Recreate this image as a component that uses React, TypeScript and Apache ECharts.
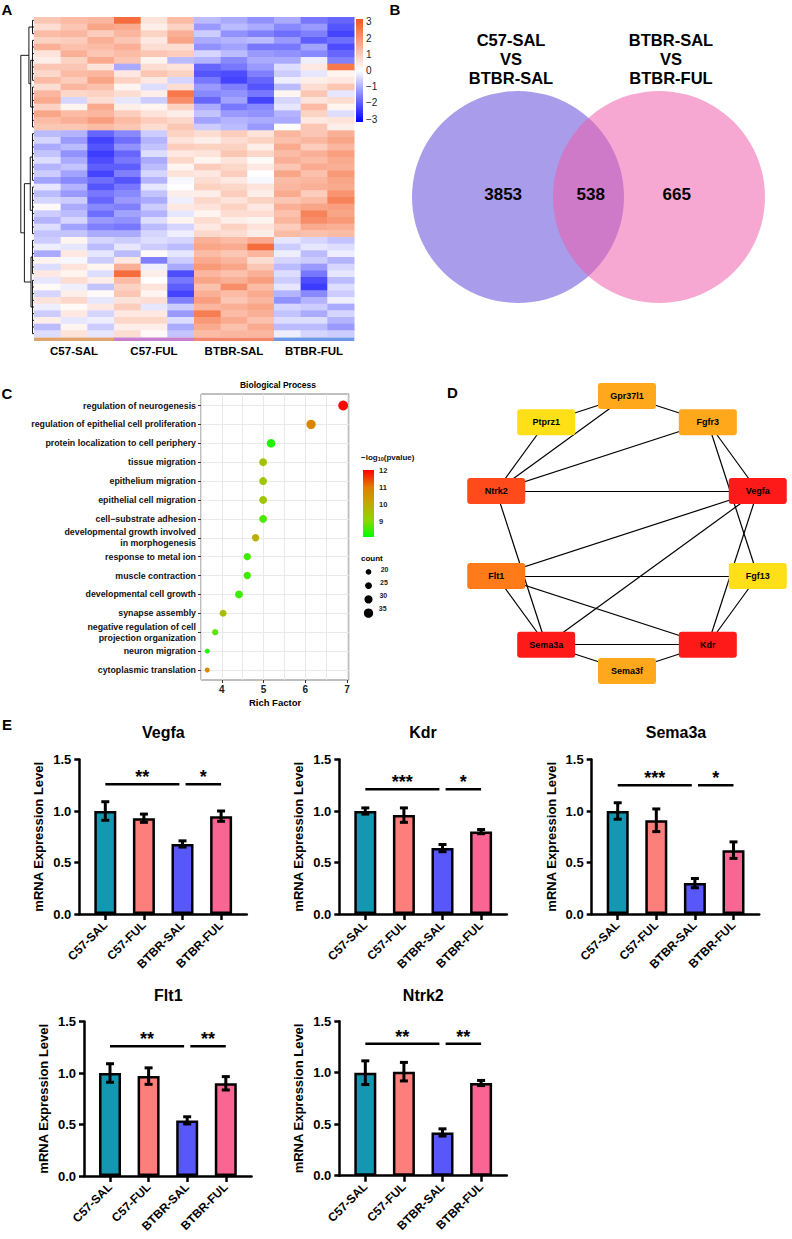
import React, { useEffect, useRef } from 'react';
import * as echarts from 'echarts';

const FONT = 'Liberation Sans, Arial, Helvetica, sans-serif';

// ---------------- Panel A : heatmap ----------------
const heatSamples = ['C57-SAL-1', 'C57-SAL-2', 'C57-SAL-3', 'C57-FUL-1', 'C57-FUL-2', 'C57-FUL-3', 'BTBR-SAL-1', 'BTBR-SAL-2', 'BTBR-SAL-3', 'BTBR-FUL-1', 'BTBR-FUL-2', 'BTBR-FUL-3'];
const heatGroups = ['C57-SAL', 'C57-FUL', 'BTBR-SAL', 'BTBR-FUL'];
const heatColumns: number[][] = [
  [1.0, 0.6, 1.2, 0.8, 1.4, 0.5, 0.3, 1.0, 0.7, 1.2, 0.6, 1.3, 1.5, 0.8, 1.6, 1.2, 1.0, -0.8, -0.5, -1.0, -0.7, -0.4, -0.9, -0.6, -1.1, -0.3, -0.8, -0.5, 0.1, -0.6, -0.9, -0.4, -0.7, -0.6, -0.2, -1.0, 0.2, -0.4, 0.4, -0.3, 0.1, -0.5, 0.5, -0.2, -0.6, 0.3, -0.8, -0.4],
  [1.2, 1.0, 1.3, 0.9, 1.1, 1.4, 0.8, 1.0, 1.2, 0.9, 1.3, 0.7, -0.5, 0.2, 1.2, 1.4, 1.0, -0.9, -1.2, -0.8, -1.3, -1.0, -0.7, -1.1, -1.4, -0.9, -1.2, -0.6, -1.0, -0.8, -0.5, -1.1, -0.7, 0.2, -0.3, 0.4, -0.1, 0.5, 0.2, 0.6, -0.2, 0.3, 0.7, 0.1, 0.4, -0.3, 0.2, 0.5],
  [1.3, 1.6, 0.9, 1.4, 1.2, 1.0, 1.5, 0.5, 1.3, 1.6, 1.1, 0.8, 0.6, 1.5, 1.3, 1.7, 1.2, -1.8, -2.2, -2.0, -2.3, -2.1, -1.9, -2.2, -1.7, -2.0, -1.6, -1.8, -1.4, -1.7, -1.2, -1.5, -1.0, -0.5, -0.8, -0.3, -0.6, 0.2, -0.4, 0.3, -0.7, 0.1, -0.3, 0.4, -0.5, -0.2, -0.6, -0.3],
  [2.6, 1.5, 1.3, 1.0, 1.4, 1.2, 1.0, -1.0, 0.4, 0.8, 0.2, 0.6, -0.3, 0.3, 0.9, 1.2, 1.0, -1.4, -1.7, -1.3, -1.8, -1.6, -1.9, -1.5, -2.0, -1.6, -1.4, -1.2, -1.5, -1.1, -1.3, -1.6, -1.0, -0.6, -0.3, -0.8, 0.4, 1.4, 2.6, 1.2, 0.8, 1.0, 0.5, 0.9, 0.4, 0.7, 0.3, 0.6],
  [0.5, 0.3, 0.8, 0.4, 0.6, 1.0, 0.2, 0.6, 1.0, 0.4, -0.4, 0.3, -0.6, 0.2, 0.5, 0.9, 0.6, -0.6, -0.9, -0.7, -0.4, -1.0, -0.8, -0.5, -0.9, -0.3, -0.7, -1.0, -0.6, -0.9, -0.4, -0.8, -0.5, -0.4, -0.6, 0.1, -1.5, -0.2, 0.3, 0.0, 0.5, 0.2, 0.6, -0.3, 0.4, 0.7, 0.3, 0.1],
  [1.2, 0.8, 1.4, 1.6, 0.6, 0.9, -0.8, 0.5, 0.8, -0.5, 0.6, 2.4, 2.0, 0.8, 0.3, 0.7, 1.0, 0.8, 0.5, 0.9, 0.4, 0.7, 0.2, 0.5, -0.1, 0.0, 0.3, -0.2, 0.4, -0.3, 0.2, -0.5, -0.2, -0.5, -0.8, -0.3, -0.6, -1.0, -2.1, -1.6, -1.9, -2.2, -1.5, -0.6, -1.2, -0.4, -1.0, -0.7],
  [-0.8, -1.2, -0.6, -1.0, -1.3, -0.5, -0.9, -1.8, -2.0, -1.6, -1.2, -1.4, -1.8, -1.0, -0.7, -1.1, -0.6, 0.6, 0.3, 0.8, 0.5, 0.2, 0.9, 0.4, 0.6, 0.8, 0.3, 0.7, 0.5, 0.2, 0.6, 0.4, 0.7, 1.4, 1.6, 1.2, 1.5, 1.8, 1.3, 1.6, 1.1, 1.4, 1.7, 1.3, 2.3, 1.8, 1.5, 1.2],
  [-1.0, -0.8, -1.3, -0.9, -1.1, -0.8, -1.4, -1.6, -2.1, -2.2, -1.5, -1.3, -1.1, -1.6, -1.2, -0.9, -0.8, 0.9, 0.6, 0.8, 1.0, 0.5, 0.7, 0.9, 0.4, 0.7, 0.9, 0.5, 0.8, 0.6, 0.3, 0.8, 0.6, 1.2, 1.5, 1.0, 1.3, 1.6, 1.1, 1.4, 2.0, 1.2, 1.0, 1.4, 1.2, 1.5, 1.1, 1.3],
  [-1.3, -1.0, -1.5, -0.8, -1.6, -1.2, -1.0, -1.2, -1.5, -1.8, -2.0, -1.6, -2.2, -1.4, -1.3, -1.0, -1.2, 0.5, 0.8, 0.3, 0.7, 0.1, 0.4, 0.0, -0.1, 0.5, 0.3, 0.8, 0.4, 0.6, 0.2, 0.5, 0.3, 1.5, 2.6, 1.3, 0.6, 1.0, 1.4, 1.7, 1.2, 1.5, 1.3, 1.6, 1.4, 1.1, 1.5, 1.3],
  [-1.0, -1.4, -1.7, -1.2, -1.6, -1.3, -1.0, -0.4, -0.6, -0.2, -0.8, 0.2, -0.5, -0.3, -0.9, -1.0, 0.0, 1.3, 1.1, 1.5, 1.2, 1.4, 1.0, 1.6, 1.2, 1.3, 1.5, 1.0, 1.4, 1.1, 1.3, 0.9, 1.2, -0.3, -0.6, -0.2, -0.5, -0.8, -0.4, -0.6, -0.3, -0.9, -1.3, -0.5, -0.7, -0.4, -0.8, -0.2],
  [-1.6, -1.2, -1.5, -1.9, -1.1, -1.4, -0.2, 0.4, -0.3, 0.3, 0.6, 1.0, 0.5, 1.2, 0.8, 0.4, 1.0, 1.0, 1.3, 0.9, 1.4, 1.2, 1.5, 1.1, 1.3, 1.4, 0.9, 1.2, 1.6, 2.2, 2.0, 1.5, 1.1, -0.5, -0.3, -0.8, -0.6, -1.2, -1.6, -2.1, -2.3, -1.4, -0.9, -0.6, -1.0, -0.4, -0.8, -0.5],
  [-1.8, -2.0, -2.2, -1.7, -2.1, -1.8, -1.5, 2.4, 0.2, 0.4, 1.0, -0.3, 0.6, 0.2, -0.4, 0.5, 0.3, 1.4, 1.6, 1.3, 1.7, 1.5, 1.4, 1.8, 1.6, 1.5, 1.9, 2.2, 1.7, 1.6, 1.8, 1.4, 1.2, -0.7, -0.4, -0.2, -0.9, -0.5, -0.3, -0.8, -0.4, -0.6, -0.2, -1.0, -0.5, -0.9, -1.2, -0.6],
];
const heatScaleTicks = [-3, -2, -1, 0, 1, 2, 3];
// dendrogram: leaf groups [firstRow, lastRow] and merges [clusterA, clusterB, height]
const dendroLeafHeight = 1;
const dendroLeafGroups: number[][] = [[0, 2], [3, 9], [10, 16], [17, 24], [25, 32], [33, 38], [39, 47]];
const dendroMerges: number[][] = [[1, 2, 2.2], [0, 7, 3.4], [3, 4, 2.5], [5, 6, 2.0], [9, 10, 6.4], [8, 11, 8.8]];

// ---------------- Panel B : Venn ----------------
const vennTitles = ['C57-SAL\nVS\nBTBR-SAL', 'BTBR-SAL\nVS\nBTBR-FUL'];
const vennCenters = [0, 1.33];
const vennCounts = [3853, 538, 665];
const vennCountX = [-0.14, 0.686, 1.497];

// ---------------- Panel C : GO dot plot ----------------
const goTerms = [
  'regulation of neurogenesis',
  'regulation of epithelial cell proliferation',
  'protein localization to cell periphery',
  'tissue migration',
  'epithelium migration',
  'epithelial cell migration',
  'cell\u2212substrate adhesion',
  'developmental growth involved\nin morphogenesis',
  'response to metal ion',
  'muscle contraction',
  'developmental cell growth',
  'synapse assembly',
  'negative regulation of cell\nprojection organization',
  'neuron migration',
  'cytoplasmic translation',
];
const goRichFactor = [6.91, 6.14, 5.18, 4.99, 4.99, 4.99, 4.99, 4.81, 4.61, 4.61, 4.41, 4.03, 3.84, 3.65, 3.65];
const goCount = [37, 35, 32, 29, 29, 29, 29, 27, 27, 27, 29, 25, 22, 17, 17];
const goLogP = [12.0, 10.8, 8.3, 9.5, 9.4, 9.4, 8.6, 9.9, 8.5, 8.5, 8.5, 9.6, 8.7, 8.3, 10.8];
const goRichTicks = [4, 5, 6, 7];
const goColorTicks = [9, 10, 11, 12];
const goCountLegend = [20, 25, 30, 35];

// ---------------- Panel D : PPI network ----------------
const netNodes = ['Fgf13', 'Kdr', 'Sema3f', 'Sema3a', 'Flt1', 'Ntrk2', 'Ptprz1', 'Gpr37l1', 'Fgfr3', 'Vegfa'];
const netRank = [10, 2, 8, 3, 5, 4, 9, 7, 6, 1];
const netEdges: string[][] = [
  ['Gpr37l1', 'Ptprz1'], ['Gpr37l1', 'Fgfr3'], ['Gpr37l1', 'Ntrk2'], ['Ptprz1', 'Ntrk2'], ['Fgfr3', 'Ntrk2'],
  ['Fgfr3', 'Vegfa'], ['Fgfr3', 'Fgf13'], ['Ntrk2', 'Vegfa'], ['Ntrk2', 'Sema3a'], ['Vegfa', 'Flt1'],
  ['Vegfa', 'Sema3a'], ['Vegfa', 'Kdr'], ['Flt1', 'Fgf13'], ['Flt1', 'Sema3a'], ['Flt1', 'Kdr'],
  ['Fgf13', 'Kdr'], ['Sema3a', 'Kdr'], ['Sema3a', 'Sema3f'], ['Kdr', 'Sema3f'],
];

// ---------------- Panel E : qPCR ----------------
const qpcrGroups = ['C57-SAL', 'C57-FUL', 'BTBR-SAL', 'BTBR-FUL'];
const qpcrGenes = ['Vegfa', 'Kdr', 'Sema3a', 'Flt1', 'Ntrk2'];
const qpcrMeans = [
  [1.00, 0.93, 0.68, 0.95],
  [1.00, 0.96, 0.64, 0.80],
  [1.00, 0.91, 0.30, 0.62],
  [1.00, 0.97, 0.54, 0.90],
  [1.00, 1.01, 0.42, 0.90],
];
const qpcrErrors = [
  [0.09, 0.04, 0.03, 0.05],
  [0.03, 0.07, 0.035, 0.02],
  [0.08, 0.11, 0.045, 0.08],
  [0.09, 0.08, 0.035, 0.065],
  [0.115, 0.09, 0.035, 0.025],
];
const qpcrComparisons = [[0, 2], [2, 3]];
const qpcrStars = [['**', '*'], ['***', '*'], ['***', '*'], ['**', '**'], ['**', '**']];
const qpcrSigLevel = [1.26, 1.21, 1.25, 1.26, 1.28];
const qpcrTicks = [0, 0.5, 1.0, 1.5];

// ---------------- styles ----------------
const HEAT_COLORS = ['#0000ff', '#ffffff', '#f4561e'];
const GROUP_BAR_COLORS = ['#e0a46e', '#c97fcf', '#f4866a', '#6f97e8'];
const GO_COLORS = ['#00ff00', '#8fd500', '#bfaa00', '#e37b00', '#ff0000'];
const RANK_COLORS = ['#ff1a1a', '#ff1a1a', '#ff1a1a', '#ff4a1c', '#ff7a18', '#ffa81c', '#ffa81c', '#ffa81c', '#ffe018', '#ffe018'];
const QPCR_COLORS = ['#1497b0', '#fd7f7c', '#5757fa', '#fa6694'];
const NODE_SHAPE = 'path://M3,0H55Q58,0,58,3V23Q58,26,55,26H3Q0,26,0,23V3Q0,0,3,0Z';

const minusFmt = (v: number) => (v < 0 ? '\u2212' + Math.abs(v) : String(v));

function buildOption() {
  const grid: any[] = [];
  const xAxis: any[] = [];
  const yAxis: any[] = [];
  const series: any[] = [];
  const graphic: any[] = [];
  const visualMap: any[] = [];
  const addGrid = (g: any) => grid.push(g) - 1;
  const addX = (a: any) => xAxis.push(a) - 1;
  const addY = (a: any) => yAxis.push(a) - 1;
  const addS = (s: any) => series.push(s) - 1;
  const txt = (text: string, x: number, y: number, size: number, opts: any = {}) =>
    graphic.push({
      type: 'text', x, y, silent: true,
      style: { text, textAlign: opts.align || 'center', textVerticalAlign: opts.valign || 'middle', fontSize: size, fontWeight: opts.weight || 'bold', fontFamily: FONT, fill: opts.color || '#000', lineHeight: opts.lineHeight },
    });

  const rows = heatColumns[0].length;

  // ===== Panel A heatmap =====
  const gHeat = addGrid({ left: 34, top: 17, width: 320, height: 320 });
  const xHeat = addX({ type: 'category', gridIndex: gHeat, data: heatSamples, show: false });
  const yHeat = addY({ type: 'category', gridIndex: gHeat, data: Array.from({ length: rows }, (_, i) => 'gene' + (i + 1)), inverse: true, show: false });
  const heatData: number[][] = [];
  heatColumns.forEach((col, c) => col.forEach((v, r) => heatData.push([c, r, v])));
  const sHeat = addS({
    type: 'custom', xAxisIndex: xHeat, yAxisIndex: yHeat, data: heatData, encode: { x: 0, y: 1 },
    renderItem: (params: any, api: any) => {
      const c = api.coord([api.value(0), api.value(1)]);
      const s = api.size([1, 1]);
      return { type: 'rect', shape: { x: c[0] - s[0] / 2, y: c[1] - s[1] / 2, width: s[0] + 0.5, height: s[1] + 0.5 }, style: { fill: api.visual('color') } };
    },
  });
  visualMap.push({ type: 'continuous', show: false, seriesIndex: sHeat, dimension: 2, min: -3, max: 3, inRange: { color: HEAT_COLORS } });

  // dendrogram
  const gDen = addGrid({ left: 19, top: 17, width: 15, height: 320 });
  const xDen = addX({ type: 'value', gridIndex: gDen, min: 0, max: 10, inverse: true, show: false });
  const yDen = addY({ type: 'value', gridIndex: gDen, min: 0, max: rows, inverse: true, show: false });
  const segs: number[][] = [];
  const clusters: { h: number; c: number }[] = [];
  for (let r = 0; r < rows; r++) segs.push([0, r + 0.5, dendroLeafHeight, r + 0.5]);
  dendroLeafGroups.forEach(([a, b]) => {
    segs.push([dendroLeafHeight, a + 0.5, dendroLeafHeight, b + 0.5]);
    clusters.push({ h: dendroLeafHeight, c: (a + b + 1) / 2 });
  });
  dendroMerges.forEach(([i, j, h]) => {
    const A = clusters[i];
    const B = clusters[j];
    segs.push([A.h, A.c, h, A.c], [B.h, B.c, h, B.c], [h, A.c, h, B.c]);
    clusters.push({ h, c: (A.c + B.c) / 2 });
  });
  addS({
    type: 'custom', xAxisIndex: xDen, yAxisIndex: yDen, data: segs, encode: { x: [0, 2], y: [1, 3] }, silent: true,
    renderItem: (params: any, api: any) => {
      const p1 = api.coord([api.value(0), api.value(1)]);
      const p2 = api.coord([api.value(2), api.value(3)]);
      return { type: 'line', shape: { x1: p1[0], y1: p1[1], x2: p2[0], y2: p2[1] }, style: { stroke: '#000', lineWidth: 0.9 } };
    },
  });

  // group annotation bar
  const gAnn = addGrid({ left: 34, top: 337.5, width: 320, height: 3.5 });
  const xAnn = addX({
    type: 'category', gridIndex: gAnn, data: heatGroups, axisLine: { show: false }, axisTick: { show: false },
    axisLabel: { interval: 0, margin: 4, fontSize: 11.5, fontWeight: 'bold', color: '#000', fontFamily: FONT },
  });
  const yAnn = addY({ type: 'value', gridIndex: gAnn, min: 0, max: 1, show: false });
  addS({
    type: 'custom', xAxisIndex: xAnn, yAxisIndex: yAnn, data: heatGroups.map((_, i) => [i]), encode: { x: 0 },
    renderItem: (params: any, api: any) => {
      const c = api.coord([api.value(0), 0.5]);
      const s = api.size([1, 1]);
      return { type: 'rect', shape: { x: c[0] - s[0] / 2, y: c[1] - s[1] / 2, width: s[0] + 0.3, height: s[1] }, style: { fill: GROUP_BAR_COLORS[params.dataIndex] } };
    },
  });

  // heat colour bar
  const gHcb = addGrid({ left: 356, top: 19, width: 7, height: 103 });
  const xHcb = addX({ type: 'value', gridIndex: gHcb, min: 0, max: 1, show: false });
  const yHcb = addY({
    type: 'value', gridIndex: gHcb, min: -3.17, max: 3.17, position: 'right',
    axisLine: { show: false }, axisTick: { show: false }, splitLine: { show: false },
    axisLabel: { customValues: heatScaleTicks, formatter: minusFmt, margin: 3, fontSize: 10, color: '#222', fontFamily: FONT },
  });
  addS({
    type: 'custom', xAxisIndex: xHcb, yAxisIndex: yHcb, data: [[0, 0]], silent: true,
    renderItem: (params: any, api: any) => {
      const p0 = api.coord([0, 3.17]);
      const p1 = api.coord([1, -3.17]);
      return {
        type: 'rect', shape: { x: p0[0], y: p0[1], width: p1[0] - p0[0], height: p1[1] - p0[1] },
        style: { fill: new echarts.graphic.LinearGradient(0, 0, 0, 1, [{ offset: 0, color: HEAT_COLORS[2] }, { offset: 0.5, color: HEAT_COLORS[1] }, { offset: 1, color: HEAT_COLORS[0] }]) },
      };
    },
  });

  // ===== Panel B Venn =====
  const gVenn = addGrid({ left: 412, top: 91, width: 353, height: 212 });
  const xVenn = addX({ type: 'value', gridIndex: gVenn, min: -1, max: 2.33, show: false });
  const yVenn = addY({ type: 'value', gridIndex: gVenn, min: -1, max: 1, show: false });
  addS({
    type: 'scatter', xAxisIndex: xVenn, yAxisIndex: yVenn, symbolSize: 212, silent: true,
    data: vennCenters.map((c, i) => ({ value: [c, 0], itemStyle: { color: i === 0 ? '#5e46da' : '#ee5cab', opacity: 0.535 } })),
  });
  addS({
    type: 'scatter', xAxisIndex: xVenn, yAxisIndex: yVenn, symbolSize: 1, silent: true, z: 5,
    itemStyle: { color: 'rgba(0,0,0,0)', opacity: 1 },
    data: vennCounts.map((v, i) => [vennCountX[i], 0.025, v]),
    label: { show: true, position: 'inside', formatter: (p: any) => String(p.value[2]), fontSize: 17, fontWeight: 'bold', color: '#000', fontFamily: FONT },
  });
  txt(vennTitles[0], 511, 58.5, 16.5, { lineHeight: 19 });
  txt(vennTitles[1], 671, 58.5, 16.5, { lineHeight: 19 });

  // ===== Panel C GO dot plot =====
  const gFrame = addGrid({ left: 201, top: 394, width: 148, height: 286, show: true, borderColor: '#7f7f7f', borderWidth: 1, backgroundColor: '#fff' });
  addX({
    type: 'value', gridIndex: gFrame, min: 3.5, max: 7.05, interval: 0.5, position: 'bottom',
    axisLine: { show: false }, axisTick: { show: false }, axisLabel: { show: false },
    splitLine: { show: true, lineStyle: { color: '#e6e6e6', width: 0.9 } },
  });
  addX({
    type: 'value', gridIndex: gFrame, min: 3.5, max: 7.05, position: 'bottom',
    axisLine: { show: false }, splitLine: { show: false },
    axisTick: { show: true, customValues: goRichTicks, length: 3, lineStyle: { color: '#333', width: 1 } },
    axisLabel: { customValues: goRichTicks, margin: 4, fontSize: 10, fontWeight: 'bold', color: '#222', fontFamily: FONT },
    name: 'Rich Factor', nameLocation: 'middle', nameGap: 17, nameTextStyle: { fontSize: 9.5, fontWeight: 'bold', color: '#000', fontFamily: FONT },
  });
  addY({ type: 'value', gridIndex: gFrame, min: 0, max: 1, show: false });
  const gGo = addGrid({ left: 201, top: 405.5, width: 148, height: 264.5 });
  const xGo = addX({ type: 'value', gridIndex: gGo, min: 3.5, max: 7.05, show: false });
  const yGo = addY({
    type: 'category', gridIndex: gGo, data: goTerms, inverse: true, boundaryGap: false,
    axisLine: { show: false }, axisTick: { show: true, length: 3, lineStyle: { color: '#333', width: 1 } },
    splitLine: { show: true, lineStyle: { color: '#e6e6e6', width: 0.9 } },
    axisLabel: { interval: 0, margin: 5, fontSize: 8.8, lineHeight: 11, fontWeight: 'bold', color: '#111', fontFamily: FONT },
  });
  const sGo = addS({
    type: 'scatter', xAxisIndex: xGo, yAxisIndex: yGo, z: 4, itemStyle: { opacity: 1 },
    data: goTerms.map((_, i) => [goRichFactor[i], i, goCount[i], goLogP[i]]),
    symbolSize: (v: number[]) => 5.7 + (v[2] - 20) * 0.24,
  });
  visualMap.push({ type: 'continuous', show: false, seriesIndex: sGo, dimension: 3, min: 8.06, max: 12.05, inRange: { color: GO_COLORS } });
  txt('Biological Process', 278, 384.5, 8.5);

  // GO colour legend
  graphic.push({
    type: 'text', x: 361, y: 457, silent: true,
    style: {
      text: '{a|\u2212log}{s|10}{a|(pvalue)}', textAlign: 'left', textVerticalAlign: 'middle', fontFamily: FONT,
      rich: { a: { fontSize: 8, fontWeight: 'bold', fontFamily: FONT, fill: '#111' }, s: { fontSize: 5.5, fontWeight: 'bold', fontFamily: FONT, fill: '#111', padding: [4, 0, 0, 0] } },
    },
  });
  const gGcb = addGrid({ left: 363, top: 470, width: 11, height: 67 });
  const xGcb = addX({ type: 'value', gridIndex: gGcb, min: 0, max: 1, show: false });
  const yGcb = addY({
    type: 'value', gridIndex: gGcb, min: 8.06, max: 12.05, position: 'right',
    axisLine: { show: false }, splitLine: { show: false },
    axisTick: { show: true, inside: true, customValues: goColorTicks, length: 2.5, lineStyle: { color: '#fff', width: 1 } },
    axisLabel: { customValues: goColorTicks, margin: 5, fontSize: 7.5, fontWeight: 'bold', color: '#222', fontFamily: FONT },
  });
  addS({
    type: 'custom', xAxisIndex: xGcb, yAxisIndex: yGcb, data: [[0, 10]], silent: true, z: 1,
    renderItem: (params: any, api: any) => {
      const p0 = api.coord([0, 12.05]);
      const p1 = api.coord([1, 8.06]);
      const stops = GO_COLORS.slice().reverse().map((c, i) => ({ offset: i / (GO_COLORS.length - 1), color: c }));
      return { type: 'rect', shape: { x: p0[0], y: p0[1], width: p1[0] - p0[0], height: p1[1] - p0[1] }, style: { fill: new echarts.graphic.LinearGradient(0, 0, 0, 1, stops) } };
    },
  });
  txt('count', 361, 558, 8, { align: 'left' });
  const gGsz = addGrid({ left: 362, top: 565, width: 13, height: 55 });
  const xGsz = addX({ type: 'value', gridIndex: gGsz, min: -1, max: 1, show: false });
  const yGsz = addY({ type: 'category', gridIndex: gGsz, data: goCountLegend.map(String), inverse: true, show: false });
  addS({
    type: 'scatter', xAxisIndex: xGsz, yAxisIndex: yGsz, silent: true, itemStyle: { color: '#000', opacity: 1 },
    data: goCountLegend.map((c, i) => [0, i, c]),
    symbolSize: (v: number[]) => 5.7 + (v[2] - 20) * 0.24,
    label: { show: true, position: [15, 0], align: 'left', verticalAlign: 'middle', formatter: (p: any) => String(p.value[2]), fontSize: 7, fontWeight: 'bold', color: '#222', fontFamily: FONT },
  });

  // ===== Panel D network =====
  addS({
    type: 'graph', layout: 'circular', left: 489.5, top: 396, width: 275, height: 275, roam: false, silent: true,
    symbol: NODE_SHAPE, symbolSize: [58, 26], z: 3,
    circular: { rotateLabel: false },
    label: { show: true, position: 'inside', fontSize: 9, fontWeight: 'bold', color: '#000', fontFamily: FONT },
    itemStyle: { opacity: 1 },
    lineStyle: { color: '#000', width: 1.2, opacity: 1, curveness: 0 },
    data: netNodes.map((n, i) => ({ name: n, itemStyle: { color: RANK_COLORS[netRank[i] - 1] } })),
    links: netEdges.map(([s, t]) => ({ source: s, target: t })),
  });

  // ===== Panel E bar charts =====
  const boxes = [
    { axisX: 79.3, y0: 914, tx: 163.3, ty: 732.7 },
    { axisX: 339.3, y0: 914, tx: 423, ty: 732.7 },
    { axisX: 591.7, y0: 914, tx: 676, ty: 732.7 },
    { axisX: 84, y0: 1176, tx: 168.3, ty: 995 },
    { axisX: 339.3, y0: 1175.7, tx: 423.3, ty: 995 },
  ];
  qpcrGenes.forEach((gene, gi) => {
    const b = boxes[gi];
    const g = addGrid({ left: b.axisX, top: b.y0 - 154.5, width: 167.5, height: 154.5 });
    const xi = addX({
      type: 'value', gridIndex: g, min: -0.674, max: 3.666, splitLine: { show: false },
      axisLine: { show: true, onZero: false, lineStyle: { color: '#000', width: 2.5 } },
      axisTick: { show: true, customValues: [0, 1, 2, 3], length: 6, lineStyle: { color: '#000', width: 2.5 } },
      axisLabel: { customValues: [0, 1, 2, 3], formatter: (v: number) => qpcrGroups[Math.round(v)], rotate: 45, margin: 9, fontSize: 12, fontWeight: 'bold', color: '#000', fontFamily: FONT },
    });
    const yi = addY({
      type: 'value', gridIndex: g, min: 0, max: 1.5, interval: 0.5, splitLine: { show: false },
      axisLine: { show: true, onZero: false, lineStyle: { color: '#000', width: 2.5 } },
      axisTick: { show: true, length: 5, lineStyle: { color: '#000', width: 2.5 } },
      axisLabel: { customValues: qpcrTicks, formatter: (v: number) => v.toFixed(1), margin: 8, fontSize: 13, fontWeight: 'bold', color: '#000', fontFamily: FONT },
      name: 'mRNA Expression Level', nameLocation: 'middle', nameGap: 34,
      nameTextStyle: { fontSize: 13, fontWeight: 'bold', color: '#000', fontFamily: FONT },
    });
    addS({
      type: 'bar', xAxisIndex: xi, yAxisIndex: yi, barWidth: 22, z: 2, silent: true,
      itemStyle: { borderColor: '#000', borderWidth: 2.5, opacity: 1 },
      data: qpcrMeans[gi].map((v, j) => ({ value: [j, v], itemStyle: { color: QPCR_COLORS[j] } })),
    });
    addS({
      type: 'custom', xAxisIndex: xi, yAxisIndex: yi, z: 3, silent: true,
      data: qpcrMeans[gi].map((v, j) => [j, v, qpcrErrors[gi][j]]),
      encode: { x: 0, y: 1 },
      renderItem: (params: any, api: any) => {
        const x = api.value(0), m = api.value(1), e = api.value(2);
        const top = api.coord([x, m + e]);
        const bot = api.coord([x, m - e]);
        const st = { stroke: '#000', lineWidth: 3 };
        return {
          type: 'group', children: [
            { type: 'line', shape: { x1: top[0], y1: top[1], x2: bot[0], y2: bot[1] }, style: st },
            { type: 'line', shape: { x1: top[0] - 4, y1: top[1], x2: top[0] + 4, y2: top[1] }, style: st },
            { type: 'line', shape: { x1: bot[0] - 4, y1: bot[1], x2: bot[0] + 4, y2: bot[1] }, style: st },
          ],
        };
      },
    });
    addS({
      type: 'custom', xAxisIndex: xi, yAxisIndex: yi, z: 3, silent: true,
      data: qpcrComparisons.map(([a, c]) => [a === 2 ? a + 0.08 : a, c === 2 ? c - 0.08 : c, qpcrSigLevel[gi]]),
      encode: { x: [0, 1], y: 2 },
      renderItem: (params: any, api: any) => {
        const p1 = api.coord([api.value(0), api.value(2)]);
        const p2 = api.coord([api.value(1), api.value(2)]);
        return {
          type: 'group', children: [
            { type: 'line', shape: { x1: p1[0], y1: p1[1], x2: p2[0], y2: p2[1] }, style: { stroke: '#000', lineWidth: 2.5 } },
            { type: 'text', x: (p1[0] + p2[0]) / 2, y: p1[1] - 7, style: { text: qpcrStars[gi][params.dataIndex], textAlign: 'center', textVerticalAlign: 'middle', fontSize: 18, fontWeight: 'bold', fontFamily: FONT, fill: '#000' } },
          ],
        };
      },
    });
    txt(gene, b.tx, b.ty, 16);
  });

  // panel letters
  txt('A', 7, 9.5, 15);
  txt('B', 395, 9.5, 15);
  txt('C', 7, 393, 15);
  txt('D', 452.5, 392.5, 15);
  txt('E', 7, 724, 15);

  return {
    animation: false,
    backgroundColor: '#fff',
    textStyle: { fontFamily: FONT },
    grid, xAxis, yAxis, series, visualMap, graphic,
  };
}

export default function App() {
  const ref = useRef<HTMLDivElement>(null);
  useEffect(() => {
    const chart = echarts.init(ref.current!, null, { renderer: 'svg' });
    chart.setOption(buildOption() as any);
    return () => chart.dispose();
  }, []);
  return <div ref={ref} style={{ position: 'absolute', left: 0, top: 0, width: 792, height: 1239, background: '#fff' }} />;
}
